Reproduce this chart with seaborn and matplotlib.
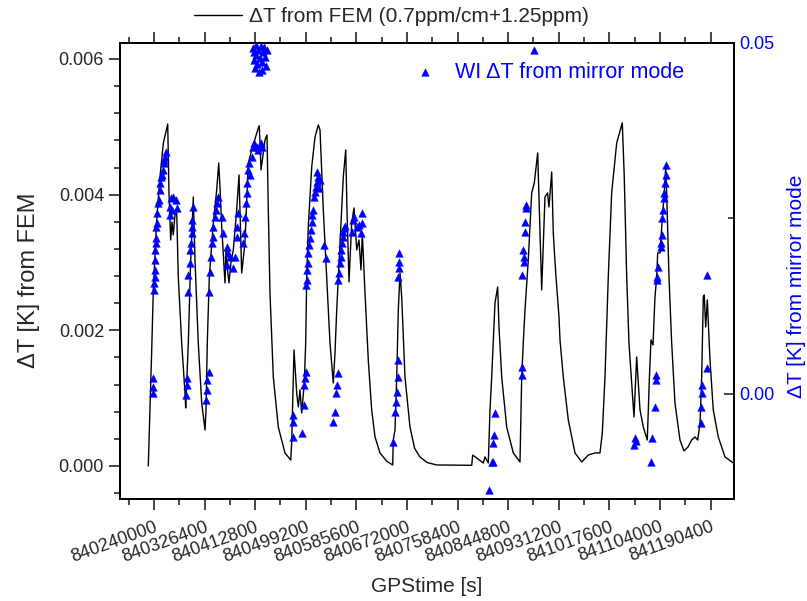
import numpy as np
import pandas as pd
import matplotlib
matplotlib.use("Agg")
import matplotlib.pyplot as plt
from matplotlib.ticker import FixedLocator, MultipleLocator, FormatStrFormatter
import seaborn as sns

sns.set_style("ticks")
plt.rcParams['font.family'] = ['Liberation Sans', 'DejaVu Sans']

T0 = 840240000          # GPS seconds reference
DAY = 86400

# ---- FEM delta T (time in days from T0, value in mK) ----
fem_day = [-0.113, -0.045, -0.014, 0.053, 0.119, 0.184, 0.271, 0.296, 0.330, 0.356, 0.381, 0.415, 0.449,
           0.480, 0.547, 0.613, 0.626, 0.678, 0.725, 0.777, 0.810, 0.875, 0.943, 1.008, 1.028, 1.053,
           1.093, 1.172, 1.239, 1.279, 1.304, 1.338, 1.403, 1.423, 1.453, 1.482, 1.522, 1.567, 1.634,
           1.680, 1.733, 1.798, 1.864, 1.931, 2.061, 2.081, 2.115, 2.194, 2.233, 2.259, 2.292, 2.358,
           2.456, 2.589, 2.702, 2.721, 2.767, 2.820, 2.852, 2.885, 2.919, 2.970, 2.998, 3.018, 3.049,
           3.117, 3.182, 3.247, 3.281, 3.300, 3.346, 3.413, 3.478, 3.543, 3.577, 3.611, 3.676, 3.741,
           3.789, 3.814, 3.854, 3.907, 3.953, 4.006, 4.051, 4.091, 4.117, 4.170, 4.235, 4.302, 4.368,
           4.466, 4.600, 4.717, 4.729, 4.763, 4.797, 4.828, 4.862, 4.895, 4.960, 5.059, 5.150, 5.257,
           5.400, 5.587, 6.279,
           6.298, 6.508, 6.542, 6.607, 6.640, 6.674, 6.739, 6.792, 6.818, 6.872, 6.970, 7.101, 7.233,
           7.267, 7.298, 7.332, 7.397, 7.464, 7.516, 7.583, 7.615, 7.662, 7.727, 7.777, 7.806, 7.860,
           7.891, 7.939, 8.004, 8.024, 8.089, 8.188, 8.320, 8.453, 8.583, 8.715, 8.814, 8.860, 8.913,
           8.978, 9.045, 9.144, 9.255, 9.294, 9.342, 9.387, 9.486, 9.539, 9.605, 9.670, 9.749, 9.789,
           9.822, 9.862, 9.901, 9.935, 9.955, 10.000, 10.034, 10.085, 10.113, 10.132, 10.178, 10.231,
           10.296, 10.395, 10.474, 10.553, 10.626, 10.692, 10.745, 10.791, 10.824, 10.856, 10.875,
           10.903, 10.935, 10.988, 11.053, 11.152, 11.285, 11.449]
fem_mK = [0.000, 1.710, 2.595, 3.627, 4.265, 4.757, 5.042, 4.025, 3.332, 3.597, 3.406, 3.700, 3.730,
          2.786, 1.813, 1.076, 0.855, 1.813, 3.037, 3.966, 3.037, 1.813, 0.929, 0.531, 0.826, 1.813,
          2.786, 3.582, 4.069, 4.467, 4.113, 3.524, 2.698, 3.184, 2.890, 2.698, 3.008, 3.184, 3.774,
          4.290, 2.845, 3.288, 4.467, 4.659, 4.983, 5.013, 4.364, 4.806, 4.880, 3.774, 2.551, 1.312,
          0.575, 0.192, 0.088, 0.339, 1.710, 1.076, 0.870, 1.120, 0.781, 1.224, 1.813, 2.786, 3.524,
          4.408, 4.850, 5.027, 4.954, 4.615, 3.774, 2.786, 1.813, 1.224, 1.666, 2.300, 3.288, 4.261,
          4.659, 3.774, 2.713, 3.582, 3.804, 3.184, 3.332, 2.890, 3.435, 2.551, 1.563, 0.826, 0.428,
          0.192, 0.070, 0.015, 0.383, 0.531, 1.312, 2.300, 2.845, 2.492, 1.312, 0.575, 0.260, 0.133,
          0.050, 0.015, 0.010,
          0.162, 0.044, 0.133, 0.044, 0.826, 1.312, 2.403, 2.639, 2.049, 1.312, 0.575, 0.192, 0.059,
          1.312, 1.813, 2.300, 3.037, 4.025, 4.172, 4.615, 3.774, 2.595, 3.966, 4.025, 3.818, 4.334,
          3.435, 2.845, 2.197, 1.858, 1.312, 0.678, 0.192, 0.059, 0.162, 0.192, 0.192, 0.487, 1.312,
          2.786, 4.025, 4.762, 5.057, 4.261, 2.786, 1.813, 0.722, 1.607, 0.826, 0.575, 0.383, 1.268,
          1.858, 1.784, 2.492, 2.786, 3.140, 3.140, 3.524, 4.025, 4.408, 4.025, 2.786, 1.813,
          0.929, 0.383, 0.221, 0.280, 0.383, 0.428, 0.383, 0.634, 1.312, 2.492, 2.521,
          2.049, 2.447, 1.563, 0.826, 0.428, 0.133, 0.044]

# ---- WI delta T from mirror mode (time in days from T0, value in mK) ----
wi_day = [-0.026, -0.026, -0.020, 0.000, 0.000, 0.010, 0.010, 0.020, 0.020, 0.030, 0.040, 0.049, 0.059,
          0.069, 0.079, 0.089, 0.109, 0.128, 0.148, 0.168, 0.188, 0.217, 0.237, 0.198, 0.158,
          0.336, 0.381, 0.435, 0.316, 0.356, 0.449, 0.316,
          0.632, 0.646, 0.646, 0.678, 0.678, 0.711, 0.711, 0.725, 0.745, 0.745, 0.757, 0.765,
          1.022, 1.053, 1.053, 1.081, 1.081, 1.107, 1.121, 1.140, 1.160, 1.172, 1.206, 1.225, 1.245, 1.259,
          1.338, 1.358, 1.437, 1.462, 1.437, 1.502, 1.555, 1.601, 1.634, 1.634, 1.666,
          1.765, 1.779, 1.798, 1.818, 1.832, 1.844, 1.864, 1.887, 1.931, 1.962, 1.982, 2.030, 2.055,
          2.115, 2.134, 1.897,
          1.957, 1.976, 1.996, 2.016, 2.036, 2.055, 2.075, 2.095, 2.115, 2.134, 2.154, 2.174, 2.194,
          2.213, 2.233, 2.016, 2.134, 1.976,
          2.741, 2.741, 2.753, 2.931, 2.964, 2.970, 2.984, 2.998,
          3.004, 3.018, 3.030, 3.038, 3.049, 3.069, 3.083, 3.097, 3.117, 3.128, 3.148, 3.168, 3.182,
          3.196, 3.215, 3.235, 3.221, 3.281, 3.261, 3.366, 3.399,
          3.543, 3.577, 3.597, 3.617, 3.630, 3.642, 3.656, 3.676, 3.686, 3.696, 3.715, 3.729, 3.741,
          3.761, 3.775,
          3.907, 3.939, 3.959, 4.006, 4.042, 4.091, 4.105, 4.117,
          4.729, 4.763, 4.783, 4.797, 4.816, 4.816, 4.816, 4.842, 4.848, 4.848,
          6.674, 6.706, 6.621, 6.706, 6.719, 6.739,
          7.267, 7.267, 7.279, 7.318, 7.318, 7.298, 7.332, 7.332, 7.352, 7.352,
          7.516,
          9.492, 9.506, 9.520, 9.816, 9.836, 9.901, 9.921, 9.921, 9.947, 9.947, 9.966, 10.020, 10.020,
          10.034, 10.045, 10.053, 10.079, 10.085, 10.099, 10.113, 10.119,
          10.804, 10.810, 10.824, 10.836, 10.923, 10.923]
wi_mK = [0.14, 1.00, 2.28, 14.81, 15.81, 16.67, 17.66, 19.09, 20.51, 21.51, 22.22, 23.79, 24.36,
         25.78, 27.21, 27.64, 29.06, 30.06, 30.91, 31.91, 32.91, 33.76, 34.47, 33.33, 31.20,
         27.92, 28.06, 27.64, 26.64, 26.21, 26.50, 25.50,
         -0.14, 1.28, 2.28, 14.53, 16.95, 18.66, 20.51, 21.51, 22.93, 23.79, 24.79, 26.64,
         -0.85, 0.57, 1.99, 3.13, 14.53, 17.38, 19.52, 21.51, 22.36, 23.79, 25.21, 26.21, 27.21, 28.06,
         25.21, 22.93, 20.94, 20.09, 18.38, 19.52, 17.95, 19.52, 22.36, 23.79, 25.78,
         21.51, 22.93, 25.21, 27.21, 28.63, 30.06, 31.91, 32.91, 33.76, 35.19, 35.75, 35.19, 34.76,
         35.75, 35.19, 31.20,
         49.29, 47.58, 46.44, 48.29, 47.01, 49.00, 45.87, 47.86, 49.57, 47.29, 48.72, 49.43, 48.01,
         46.72, 49.00, 49.72, 46.15, 48.72,
         -6.13, -3.99, -2.99, -5.56, -1.57, 1.28, 2.28, 3.13,
         15.53, 16.24, 17.66, 18.66, 20.09, 21.23, 22.22, 23.36, 24.50, 25.50, 26.21, 28.06, 28.77,
         29.49, 30.20, 30.91, 31.62, 30.48, 29.34, 21.23, 19.37,
         -3.99, -2.56, 0.14, 1.28, 2.99, 16.24, 17.24, 18.66, 19.52, 20.51, 21.51, 22.36, 23.08,
         23.65, 23.93,
         23.08, 24.79, 25.21, 23.79, 24.07, 22.93, 24.36, 25.78,
         -6.84, -2.56, -1.14, 0.28, 2.42, 4.84, 16.67, 17.95, 18.80, 20.09,
         -9.69, -9.69, -13.68, -6.98, -5.84, -2.71,
         2.71, 3.85, 16.95, 18.80, 19.52, 20.51, 23.08, 24.50, 26.50, 26.92,
         49.00,
         -7.26, -6.27, -6.70, -9.69, -6.27, -1.85, 1.99, 2.71, 16.24, 16.67, 18.09, 20.94, 21.51,
         22.65, 25.07, 26.21, 27.92, 28.63, 30.06, 31.20, 32.62,
         -4.13, -1.85, 0.14, 1.28, 3.70, 16.95]

xtick_labels = ["840240000", "840326400", "840412800", "840499200", "840585600", "840672000",
                "840758400", "840844800", "840931200", "841017600", "841104000", "841190400"]

fem = pd.DataFrame({"t": T0 + np.array(fem_day) * DAY, "dT": np.array(fem_mK) * 1e-3})
wi = pd.DataFrame({"t": T0 + np.array(wi_day) * DAY, "dT": np.array(wi_mK) * 1e-3})

fig = plt.figure(figsize=(8.07, 6.01), dpi=100)
ax = fig.add_axes([0.1487, 0.1697, 0.7608, 0.7588])
ax2 = ax.twinx()

sns.lineplot(data=fem, x="t", y="dT", ax=ax, color="black", linewidth=1.0, sort=False,
             estimator=None, label="\u0394T from FEM (0.7ppm/cm+1.25ppm)", legend=False)
sns.scatterplot(data=wi, x="t", y="dT", ax=ax2, color="blue", marker="^", s=30,
                edgecolor="blue", linewidth=0.3, label="WI \u0394T from mirror mode", legend=False,
                clip_on=True, zorder=3)

ax.set_xlim(840181940, 841230317)
ax.set_ylim(-0.000487, 0.006236)
ax2.set_ylim(-0.01496, 0.05)

ticks = [float(v) for v in xtick_labels]
ax.xaxis.set_major_locator(FixedLocator(ticks))
ax.set_xticklabels(xtick_labels, rotation=20, ha="right", rotation_mode="anchor", fontsize=13)
ax.xaxis.set_minor_locator(MultipleLocator(DAY / 2))
ax.yaxis.set_major_locator(MultipleLocator(0.002))
ax.yaxis.set_minor_locator(MultipleLocator(0.0004))
ax.yaxis.set_major_formatter(FormatStrFormatter("%.3f"))
ax.tick_params(axis="y", labelsize=13)

ax2.yaxis.set_major_locator(MultipleLocator(0.05))
ax2.yaxis.set_minor_locator(MultipleLocator(0.025))
ax2.yaxis.set_major_formatter(FormatStrFormatter("%.2f"))
ax2.tick_params(axis="y", which="both", direction="in", labelcolor="blue", labelsize=13)
ax2.tick_params(axis="y", which="major", length=7, width=1.2)
ax2.tick_params(axis="y", which="minor", length=4, width=1.2)

ax.tick_params(which="major", length=8, width=1.2, direction="out", top=True)
ax.tick_params(which="minor", length=4.5, width=1.2, direction="out", top=True)
ax.tick_params(axis="x", pad=6)

for a in (ax, ax2):
    for sp in a.spines.values():
        sp.set_linewidth(1.4)
        sp.set_color("black")

ax.set_xlabel("GPStime [s]", fontsize=15, labelpad=8)
ax.set_ylabel("\u0394T [K] from FEM", fontsize=17)
ax.yaxis.set_label_coords(-0.131, 0.48)
ax2.set_ylabel("\u0394T [K] from mirror mode", fontsize=15, color="blue")
ax2.yaxis.set_label_coords(1.087, 0.467)

h1, l1 = ax.get_legend_handles_labels()
fig.legend(h1, l1, loc="center", bbox_to_anchor=(0.485, 0.972), frameon=False, fontsize=15,
           handlelength=2.3, handletextpad=0.35, borderpad=0)
h2, l2 = ax2.get_legend_handles_labels()
leg2 = ax2.legend(h2, l2, loc="center left", bbox_to_anchor=(0.479, 0.936), frameon=False, fontsize=15.5,
                  handlelength=1.0, handletextpad=0.9, borderpad=0, borderaxespad=0, markerscale=1.0)
for t in leg2.get_texts():
    t.set_color("blue")

fig.savefig("out.png", dpi=100)
